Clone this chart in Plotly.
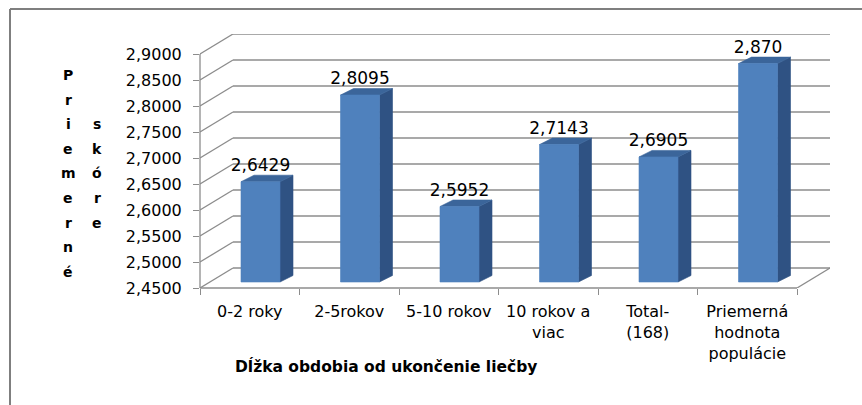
import plotly.graph_objects as go

# ---- data -----------------------------------------------------------------
categories = ["0-2 roky", "2-5rokov", "5-10 rokov", "10 rokov a<br>viac",
              "Total-<br>(168)", "Priemerná<br>hodnota<br>populácie"]
values = [2.6429, 2.8095, 2.5952, 2.7143, 2.6905, 2.870]
label_decimals = [4, 4, 4, 4, 4, 3]
y_ticks = [2.45, 2.50, 2.55, 2.60, 2.65, 2.70, 2.75, 2.80, 2.85, 2.90]
y_title_col1 = "Priemerné"
y_title_col2 = "skóre"
x_title = "Dĺžka obdobia od ukončenie liečby"

# ---- geometry of the pseudo-3D plot box (pixels) --------------------------
W, H = 862, 405
PL, PR, PT, PB = 200, 830, 34, 288      # plot area edges
WALL_DX_PX, WALL_DY_PX = 33, 20         # depth of the back wall
BAR_W_PX = 39
BAR_SHIFT_PX = (10.75, 6)               # front face of bars behind the front plane
BAR_DEPTH_PX = (13, 6.5)

n = len(categories)
X0, X1 = -0.5, n - 0.5
y_lo, y_hi = y_ticks[0], y_ticks[-1]

ppy = (PB - PT - WALL_DY_PX) / (y_hi - y_lo)
DY = WALL_DY_PX / ppy
ppx = (PR - PL - WALL_DX_PX) / (X1 - X0)
DX = WALL_DX_PX / ppx
x_range = [X0, X1 + DX]
y_range = [y_lo, y_hi + DY]

bar_w = BAR_W_PX / ppx
dxf, dyf = BAR_SHIFT_PX[0] / ppx, BAR_SHIFT_PX[1] / ppy
dxd, dyd = BAR_DEPTH_PX[0] / ppx, BAR_DEPTH_PX[1] / ppy


def px_to_paper(px, py):
    return (px - PL) / (PR - PL), (PB - py) / (PB - PT)


FONT = "DejaVu Sans"
GRID = "#8C8C8C"

fig = go.Figure()

# ---- bars (front, side and top faces) ------------------------------------
front_x, front_y, side_x, side_y, top_x, top_y = [], [], [], [], [], []
for i, v in enumerate(values):
    xl = i + dxf - bar_w / 2
    xr = xl + bar_w
    yb = y_lo + dyf
    yt = v + dyf
    front_x += [xl, xr, xr, xl, xl, None]
    front_y += [yb, yb, yt, yt, yb, None]
    side_x += [xr, xr + dxd, xr + dxd, xr, xr, None]
    side_y += [yb, yb + dyd, yt + dyd, yt, yb, None]
    top_x += [xl, xr, xr + dxd, xl + dxd, xl, None]
    top_y += [yt, yt, yt + dyd, yt + dyd, yt, None]

for xs, ys, col in [(side_x, side_y, "#2F5283"),
                    (top_x, top_y, "#3B659A"),
                    (front_x, front_y, "#4F81BD")]:
    fig.add_trace(go.Scatter(x=xs, y=ys, mode="lines", fill="toself",
                             fillcolor=col, line=dict(color=col, width=0.6),
                             hoverinfo="skip", showlegend=False))

# ---- data labels ----------------------------------------------------------
labels = [f"{v:.{d}f}".replace(".", ",") for v, d in zip(values, label_decimals)]
fig.add_trace(go.Scatter(
    x=[i + dxf for i in range(n)],
    y=[v + dyf + dyd for v in values],
    mode="text", text=labels, textposition="top center",
    textfont=dict(family=FONT, size=17, color="#000000"),
    cliponaxis=False, hoverinfo="skip", showlegend=False))

# ---- walls, floor and axis lines -----------------------------------------
line_style = dict(color=GRID, width=1.3)
shapes = []
for v in y_ticks:
    shapes.append(dict(type="line", xref="x", yref="y", x0=X0, y0=v,
                       x1=X0 + DX, y1=v + DY, line=line_style, layer="below"))
    shapes.append(dict(type="line", xref="x", yref="y", x0=X0 + DX,
                       y0=v + DY, x1=X1 + DX, y1=v + DY,
                       line=line_style, layer="below"))
# front edge of the floor and its right side
shapes.append(dict(type="line", xref="x", yref="paper", x0=X0, x1=X1, y0=0, y1=0,
                   line=line_style, layer="below"))
shapes.append(dict(type="line", xref="x", yref="y", x0=X1, y0=y_lo,
                   x1=X1 + DX, y1=y_lo + DY, line=line_style, layer="below"))
# front value axis
shapes.append(dict(type="line", xref="paper", yref="y", x0=0, x1=0,
                   y0=y_lo, y1=y_hi, line=line_style, layer="below"))
# outer frame (top and left)
fx0, fy0 = px_to_paper(10, 9)
fx1, fy1 = px_to_paper(W + 2, H + 2)
shapes.append(dict(type="line", xref="paper", yref="paper", x0=fx0, x1=fx1,
                   y0=fy0, y1=fy0, line=dict(color="#7F7F7F", width=2)))
shapes.append(dict(type="line", xref="paper", yref="paper", x0=fx0, x1=fx0,
                   y0=fy0, y1=fy1, line=dict(color="#7F7F7F", width=2)))

# ---- titles ---------------------------------------------------------------
title_font = dict(family=FONT, size=14, color="#000000", weight="bold")
annotations = []
row0, row_step = 75, 24.6
for k, ch in enumerate(y_title_col1):
    ax, ay = px_to_paper(68, row0 + k * row_step)
    annotations.append(dict(text=ch, x=ax, y=ay, xref="paper", yref="paper",
                            showarrow=False, xanchor="center", yanchor="middle",
                            font=title_font))
for k, ch in enumerate(y_title_col2):
    ax, ay = px_to_paper(97, row0 + (k + 2) * row_step)
    annotations.append(dict(text=ch, x=ax, y=ay, xref="paper", yref="paper",
                            showarrow=False, xanchor="center", yanchor="middle",
                            font=title_font))
tx, ty = px_to_paper(386, 366)
annotations.append(dict(text=x_title, x=tx, y=ty, xref="paper", yref="paper",
                        showarrow=False, xanchor="center", yanchor="middle",
                        font=dict(family=FONT, size=15.5, color="#000000",
                                  weight="bold")))

fig.update_layout(
    width=W, height=H,
    margin=dict(l=PL, r=W - PR, t=PT, b=H - PB),
    paper_bgcolor="white", plot_bgcolor="white",
    separators=",.",
    shapes=shapes, annotations=annotations,
    xaxis=dict(range=x_range, showgrid=False, zeroline=False, showline=False,
               tickmode="array", tickvals=list(range(n)), ticktext=categories,
               ticks="", ticklabelstandoff=12,
               tickfont=dict(family=FONT, size=16, color="#000000"),
               minor=dict(tickmode="array",
                          tickvals=[i - 0.5 for i in range(n + 1)],
                          ticks="outside", ticklen=6, tickcolor=GRID,
                          tickwidth=1.3, showgrid=False)),
    yaxis=dict(range=y_range, showgrid=False, zeroline=False, showline=False,
               tickmode="array", tickvals=y_ticks,
               ticktext=[f"{t:.4f}".replace(".", ",") for t in y_ticks],
               ticks="outside", ticklen=6, tickcolor=GRID, tickwidth=1.3,
               ticklabelstandoff=8,
               tickfont=dict(family=FONT, size=16, color="#000000")),
)

fig.write_html("out.html")
